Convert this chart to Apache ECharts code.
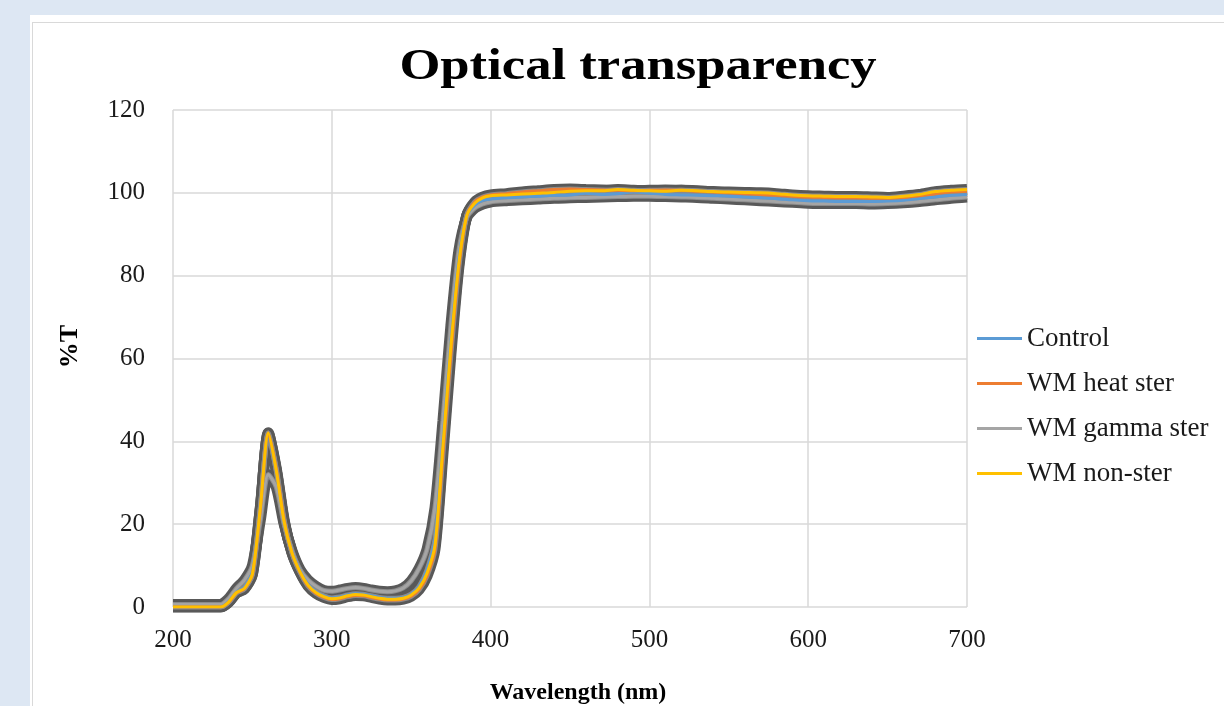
<!DOCTYPE html>
<html>
<head>
<meta charset="utf-8">
<title>Optical transparency</title>
<script src="https://cdn.jsdelivr.net/npm/echarts@6/dist/echarts.min.js"></script>
<style>
  html, body { margin: 0; padding: 0; width: 1224px; height: 706px; overflow: hidden; background: #dde7f3; }
  #card { position: absolute; left: 30px; top: 15px; width: 1210px; height: 710px; background: #fff; }
  #frame { position: absolute; left: 32px; top: 22px; width: 1210px; height: 710px; border: 1px solid #d9d9d9; }
  #chart { position: absolute; left: 0; top: 0; width: 1224px; height: 706px; }
</style>
</head>
<body>
<div id="card"></div>
<div id="frame"></div>
<div id="chart"></div>
<script>
// wavelength (nm) – 5 nm steps up to 400, 10 nm steps on the plateau
const wavelengths = [200, 210, 220, 230, 235, 240, 245, 250, 255, 260, 265, 270, 275, 280, 285, 290, 295, 300,
  305, 310, 315, 320, 325, 330, 335, 340, 345, 350, 355, 360, 365, 370, 375, 380, 385, 390, 395, 400,
  410, 420, 430, 440, 450, 460, 470, 480, 490, 500, 510, 520, 530, 540, 550, 560, 570, 580, 590, 600,
  610, 620, 630, 640, 650, 660, 670, 680, 690, 700];

// %T per sample
const control = [0, 0, 0, 0, 1.3, 3.6, 4.8, 8.5, 24, 41.5, 33, 20.5, 13.2, 8.7, 5.5, 3.7, 2.7, 2.2,
  2.4, 2.9, 3.2, 3.1, 2.7, 2.3, 2.1, 2.1, 2.3, 3.1, 5, 9, 16.5, 40, 64, 84, 94.5, 97, 98.2, 98.5,
  98.8, 99.0, 99.2, 99.4, 99.5, 99.9, 99.6, 99.8, 100.2, 99.9, 99.6, 99.5, 99.4, 99.3, 99.2, 99.0, 98.8, 98.6, 98.3, 98.1,
  98.0, 97.9, 97.9, 97.9, 98.0, 98.2, 98.6, 99.0, 99.4, 99.6];
const heatSter = [0, 0, 0, 0, 1.1, 3.4, 4.4, 7.8, 23.5, 42, 33.5, 21, 13, 8.4, 5.1, 3.3, 2.3, 1.8,
  2.0, 2.5, 2.8, 2.7, 2.3, 1.9, 1.7, 1.7, 1.9, 2.6, 4.2, 7.5, 14, 37, 61, 82, 94.5, 97.8, 99.0, 99.5,
  99.8, 100.2, 100.5, 100.8, 100.9, 100.8, 100.7, 100.6, 100.5, 100.6, 100.7, 100.6, 100.4, 100.2, 100.0, 99.8, 99.6, 99.4, 99.2, 99.0,
  98.9, 98.8, 98.8, 98.7, 98.7, 98.9, 99.3, 99.8, 100.2, 100.4];
const gammaSter = [0.6, 0.6, 0.6, 0.6, 2, 4.5, 6.5, 10, 21, 32, 29, 20, 13.5, 9, 6.5, 5, 4, 3.8,
  4.1, 4.5, 4.7, 4.5, 4.1, 3.8, 3.7, 3.9, 4.6, 6.3, 9.3, 14, 24, 45, 68, 86, 94, 96.3, 97.3, 97.8,
  98.1, 98.3, 98.5, 98.7, 98.8, 98.9, 99.0, 99.1, 99.2, 99.2, 99.1, 99.0, 98.9, 98.7, 98.5, 98.3, 98.1, 97.9, 97.7, 97.5,
  97.4, 97.4, 97.4, 97.3, 97.4, 97.6, 97.9, 98.3, 98.7, 99.0];
const nonSter = [0, 0, 0, 0, 1.2, 3.5, 4.5, 8, 24, 42, 33, 20.5, 13, 8.5, 5.3, 3.5, 2.5, 2.0,
  2.2, 2.7, 3.0, 2.9, 2.5, 2.1, 1.9, 1.9, 2.1, 2.9, 4.6, 8.2, 15, 39, 63, 83, 94.5, 97.5, 98.8, 99.3,
  99.5, 99.7, 99.9, 100.1, 100.4, 100.5, 100.5, 100.8, 100.6, 100.5, 100.4, 100.6, 100.5, 100.3, 100.2, 100.1, 100.0, 99.8, 99.5, 99.3,
  99.2, 99.1, 99.1, 99.0, 98.9, 99.2, 99.6, 100.3, 100.6, 100.8];

const legendNames = ['Control', 'WM heat ster', 'WM gamma ster', 'WM non-ster'];

// drawing order: gamma underneath, non-ster on top
const lines = [
  { name: 'WM gamma ster', values: gammaSter, color: '#a5a5a5' },
  { name: 'Control', values: control, color: '#5b9bd5' },
  { name: 'WM heat ster', values: heatSter, color: '#ed7d31' },
  { name: 'WM non-ster', values: nonSter, color: '#ffc000' }
];

const serif = '"Liberation Serif", "DejaVu Serif", serif';

const toPoints = vals => wavelengths.map((w, i) => [w, vals[i]]);

const series = [];
// error-bar halo behind every curve
lines.forEach(l => {
  series.push({
    type: 'line', data: toPoints(l.values), smooth: 0.25, symbol: 'none', silent: true,
    lineStyle: { color: '#595959', width: 11 }, z: 2
  });
  series.push({
    type: 'line', data: toPoints(l.values), smooth: 0.25, symbol: 'none', silent: true,
    lineStyle: { color: '#8c8c8c', width: 5 }, z: 3
  });
});
lines.forEach((l, i) => {
  series.push({
    name: l.name, type: 'line', data: toPoints(l.values), smooth: 0.25, symbol: 'none',
    color: l.color, lineStyle: { color: l.color, width: 3 }, z: 5 + i
  });
});

const chart = echarts.init(document.getElementById('chart'));
chart.setOption({
  backgroundColor: 'transparent',
  animation: false,
  graphic: [{
    type: 'text', x: 638, y: 67, scaleX: 1.17,
    style: {
      text: 'Optical transparency', font: 'bold 45px ' + serif, fill: '#000',
      textAlign: 'center', textVerticalAlign: 'middle'
    }
  }],
  legend: {
    data: legendNames, orient: 'vertical', left: 977, top: 325, padding: 0,
    icon: 'rect', itemWidth: 45, itemHeight: 3, itemGap: 18,
    textStyle: { fontFamily: serif, fontSize: 27, color: '#1a1a1a' }
  },
  grid: { left: 173, right: 257, top: 110, bottom: 99, containLabel: false, outerBoundsMode: 'none' },
  xAxis: {
    type: 'value', min: 200, max: 700, interval: 100,
    name: 'Wavelength (nm)', nameLocation: 'middle', nameGap: 70,
    nameTextStyle: { fontFamily: serif, fontWeight: 'bold', fontSize: 24, color: '#000', padding: [4, 0, 0, 16] },
    axisLine: { show: false }, axisTick: { show: false },
    axisLabel: { fontFamily: serif, fontSize: 25, color: '#1a1a1a', margin: 21 },
    splitLine: { lineStyle: { color: '#d9d9d9', width: 1.5 } }
  },
  yAxis: {
    type: 'value', min: 0, max: 120, interval: 20,
    name: '%T', nameLocation: 'middle', nameGap: 90,
    nameTextStyle: { fontFamily: serif, fontWeight: 'bold', fontSize: 26, color: '#000', padding: [0, 0, 0, 24] },
    axisLine: { show: false }, axisTick: { show: false },
    axisLabel: { fontFamily: serif, fontSize: 25, color: '#1a1a1a', margin: 28 },
    splitLine: { lineStyle: { color: '#d9d9d9', width: 1.5 } }
  },
  series: series
});
</script>
</body>
</html>
